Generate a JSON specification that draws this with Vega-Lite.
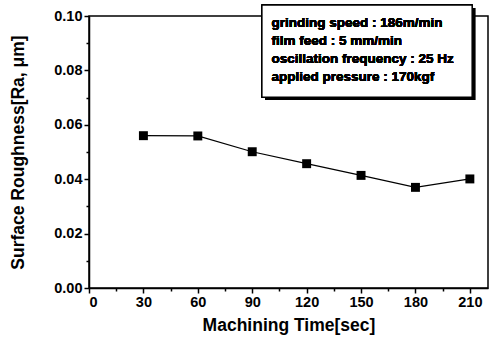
{
  "$schema": "https://vega.github.io/schema/vega-lite/v6.json",
  "width": 399,
  "height": 272,
  "autosize": "none",
  "padding": {"left": 89, "top": 16, "right": 2, "bottom": 55},
  "background": "white",
  "config": {
    "view": {"stroke": "black", "strokeWidth": 1.5},
    "font": "Liberation Sans",
    "axis": {
      "domainColor": "black", "domainWidth": 1.5, "tickColor": "black", "tickWidth": 1.5,
      "labelColor": "black", "titleColor": "black", "labelFont": "Liberation Sans", "titleFont": "Liberation Sans",
      "labelFontWeight": "bold", "titleFontWeight": "bold", "labelFontSize": 14.5, "titleFontSize": 17.5, "grid": false
    }
  },
  "data": {"values": [
    {"time": 30, "ra": 0.0560},
    {"time": 60, "ra": 0.0559},
    {"time": 90, "ra": 0.0501},
    {"time": 120, "ra": 0.0457},
    {"time": 150, "ra": 0.0414},
    {"time": 180, "ra": 0.0370},
    {"time": 210, "ra": 0.0401}
  ]},
  "resolve": {"axis": {"x": "independent", "y": "independent"}},
  "layer": [
    {
      "mark": {"type": "line", "color": "black", "strokeWidth": 1.2},
      "encoding": {
        "x": {"field": "time", "type": "quantitative", "scale": {"domain": [0, 220], "nice": false},
          "axis": {"orient": "bottom", "title": "Machining Time[sec]", "values": [0, 30, 60, 90, 120, 150, 180, 210], "tickSize": 5, "labelPadding": 2, "titlePadding": 8}},
        "y": {"field": "ra", "type": "quantitative", "scale": {"domain": [0, 0.1], "nice": false},
          "axis": {"orient": "left", "title": "Surface Roughness[Ra, μm]", "values": [0, 0.02, 0.04, 0.06, 0.08, 0.1], "format": ".2f", "tickSize": 5, "labelPadding": 2, "titlePadding": 26}}
      }
    },
    {
      "mark": {"type": "point", "shape": "square", "filled": true, "color": "black", "size": 80, "opacity": 1},
      "encoding": {
        "x": {"field": "time", "type": "quantitative",
          "axis": {"orient": "bottom", "title": null, "labels": false, "domain": false, "values": [15, 45, 75, 105, 135, 165, 195], "tickSize": 3}},
        "y": {"field": "ra", "type": "quantitative",
          "axis": {"orient": "left", "title": null, "labels": false, "domain": false, "values": [0.01, 0.03, 0.05, 0.07, 0.09], "tickSize": 3}}
      }
    },
    {
      "mark": {"type": "rect", "fill": "black", "clip": false},
      "encoding": {
        "x": {"datum": 97.1, "type": "quantitative", "axis": null},
        "x2": {"datum": 212.9},
        "y": {"datum": 0.1029, "type": "quantitative", "axis": null},
        "y2": {"datum": 0.0691}
      }
    },
    {
      "mark": {"type": "rect", "fill": "white", "stroke": "black", "strokeWidth": 1.2, "clip": false},
      "encoding": {
        "x": {"datum": 95.4, "type": "quantitative", "axis": null},
        "x2": {"datum": 211.2},
        "y": {"datum": 0.1040, "type": "quantitative", "axis": null},
        "y2": {"datum": 0.0702}
      }
    },
    {
      "mark": {"type": "text", "align": "left", "baseline": "middle", "fontSize": 13.5, "fontWeight": "bold", "lineHeight": 18, "color": "black", "font": "Liberation Sans"},
      "encoding": {
        "x": {"datum": 100.6, "type": "quantitative", "axis": null},
        "y": {"datum": 0.0974, "type": "quantitative", "axis": null},
        "text": {"value": ["grinding speed : 186m/min", "film feed : 5 mm/min", "oscillation frequency : 25 Hz", "applied pressure : 170kgf"]}
      }
    }
  ]
}
